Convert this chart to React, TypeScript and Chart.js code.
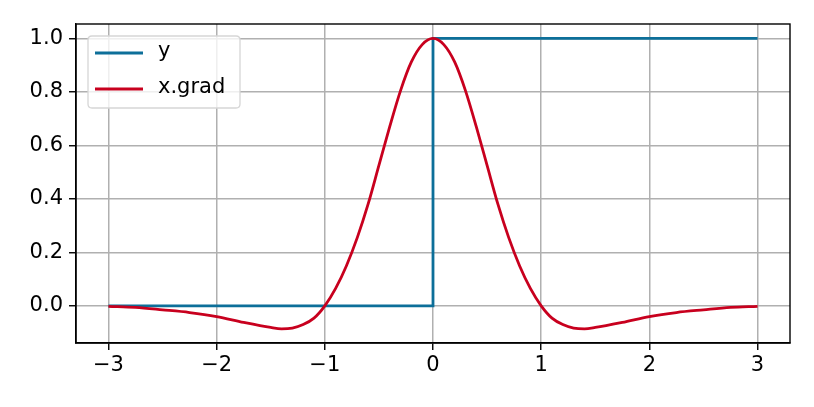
import React, { useEffect, useRef } from "react";
import { Chart, registerables } from "chart.js";

Chart.register(...registerables);

// Step series "y"
const stepX = [-3, 0, 0, 3];
const stepY = [0, 0, 1, 1];

// Gradient series "x.grad"
const gradX = [
  -3, -2.75, -2.5, -2.25, -2, -1.75, -1.5, -1.4, -1.3, -1.2, -1.1, -1, -0.9, -0.8, -0.7, -0.6, -0.5,
  -0.4, -0.3, -0.2, -0.1, 0, 0.1, 0.2, 0.3, 0.4, 0.5, 0.6, 0.7, 0.8, 0.9, 1, 1.1, 1.2, 1.3, 1.4,
  1.5, 1.75, 2, 2.25, 2.5, 2.75, 3,
];
const gradY = [
  -0.002, -0.006, -0.015, -0.025, -0.04, -0.062, -0.081, -0.086, -0.083, -0.07, -0.046, 0, 0.065,
  0.15, 0.255, 0.38, 0.525, 0.67, 0.805, 0.912, 0.977, 1, 0.977, 0.912, 0.805, 0.67, 0.525, 0.38,
  0.255, 0.15, 0.065, 0, -0.046, -0.07, -0.083, -0.086, -0.081, -0.062, -0.04, -0.025, -0.015,
  -0.006, -0.002,
];

const xTicks = [-3, -2, -1, 0, 1, 2, 3];
const yTicks = [0, 0.2, 0.4, 0.6, 0.8, 1.0];
const seriesNames = ["y", "x.grad"];

const BLUE = "#0d6f99";
const RED = "#c8001e";
const FONT = "'DejaVu Sans', sans-serif";
const FS = 21;

const fmtMinus = (s: string) => s.replace("-", "\u2212");

const framePlugin = {
  id: "frameAndLegend",
  afterDraw(chart: any) {
    const { ctx, chartArea } = chart;
    const { left, right, top, bottom } = chartArea;
    ctx.save();
    ctx.strokeStyle = "#000";
    ctx.lineWidth = 1.4;
    ctx.strokeRect(left, top, right - left, bottom - top);

    // legend box
    const bx = 88, by = 36, bw = 152, bh = 72, r = 4;
    ctx.beginPath();
    ctx.moveTo(bx + r, by);
    ctx.lineTo(bx + bw - r, by);
    ctx.quadraticCurveTo(bx + bw, by, bx + bw, by + r);
    ctx.lineTo(bx + bw, by + bh - r);
    ctx.quadraticCurveTo(bx + bw, by + bh, bx + bw - r, by + bh);
    ctx.lineTo(bx + r, by + bh);
    ctx.quadraticCurveTo(bx, by + bh, bx, by + bh - r);
    ctx.lineTo(bx, by + r);
    ctx.quadraticCurveTo(bx, by, bx + r, by);
    ctx.closePath();
    ctx.fillStyle = "rgba(255,255,255,0.8)";
    ctx.fill();
    ctx.strokeStyle = "#d6d6d6";
    ctx.lineWidth = 1.3;
    ctx.stroke();

    const colors = [BLUE, RED];
    const rows = [53, 89];
    ctx.font = `${FS}px ${FONT}`;
    ctx.textBaseline = "middle";
    ctx.textAlign = "left";
    seriesNames.forEach((name, i) => {
      ctx.strokeStyle = colors[i];
      ctx.lineWidth = 2.8;
      ctx.beginPath();
      ctx.moveTo(95, rows[i]);
      ctx.lineTo(143, rows[i]);
      ctx.stroke();
      ctx.fillStyle = "#000";
      ctx.fillText(name, 158, rows[i] - 1);
    });
    ctx.restore();
  },
};

export default function App() {
  const ref = useRef<HTMLCanvasElement>(null);

  useEffect(() => {
    if (!ref.current) return;
    const chart = new Chart(ref.current, {
      type: "line",
      data: {
        datasets: [
          {
            label: seriesNames[0],
            data: stepX.map((x, i) => ({ x, y: stepY[i] })),
            borderColor: BLUE,
            borderWidth: 2.8,
            pointRadius: 0,
            tension: 0,
            order: 1,
          },
          {
            label: seriesNames[1],
            data: gradX.map((x, i) => ({ x, y: gradY[i] })),
            borderColor: RED,
            borderWidth: 2.8,
            pointRadius: 0,
            cubicInterpolationMode: "monotone",
            order: 0,
          },
        ],
      },
      options: {
        animation: false,
        responsive: false,
        layout: { padding: { top: 24, right: 24, left: 0, bottom: 0 } },
        plugins: { legend: { display: false }, tooltip: { enabled: false } },
        scales: {
          x: {
            type: "linear",
            min: -3.3,
            max: 3.3,
            afterBuildTicks: (axis: any) => {
              axis.ticks = xTicks.map((v) => ({ value: v }));
            },
            afterFit: (s: any) => {
              s.height = 64;
            },
            ticks: {
              color: "#000",
              font: { family: FONT, size: FS },
              padding: 3,
              maxRotation: 0,
              callback: (v: any) => fmtMinus(String(v)),
            },
            grid: {
              color: "#b0b0b0",
              lineWidth: 1.5,
              tickColor: "#000",
              tickLength: 7,
              tickWidth: 1.4,
            },
            border: { display: true, color: "#000", width: 1.4 },
          },
          y: {
            type: "linear",
            min: -0.139,
            max: 1.054,
            afterBuildTicks: (axis: any) => {
              axis.ticks = yTicks.map((v) => ({ value: v }));
            },
            afterFit: (s: any) => {
              s.width = 76;
            },
            ticks: {
              color: "#000",
              font: { family: FONT, size: FS },
              padding: 6,
              callback: (v: any) => fmtMinus(Number(v).toFixed(1)),
            },
            grid: {
              color: "#b0b0b0",
              lineWidth: 1.5,
              tickColor: "#000",
              tickLength: 7,
              tickWidth: 1.4,
            },
            border: { display: true, color: "#000", width: 1.4 },
          },
        },
      },
      plugins: [framePlugin],
    });
    return () => chart.destroy();
  }, []);

  return (
    <div style={{ position: "fixed", left: 0, top: 0, width: 814, height: 407, background: "#fff" }}>
      <canvas ref={ref} width={814} height={407} style={{ width: 814, height: 407 }} />
    </div>
  );
}
